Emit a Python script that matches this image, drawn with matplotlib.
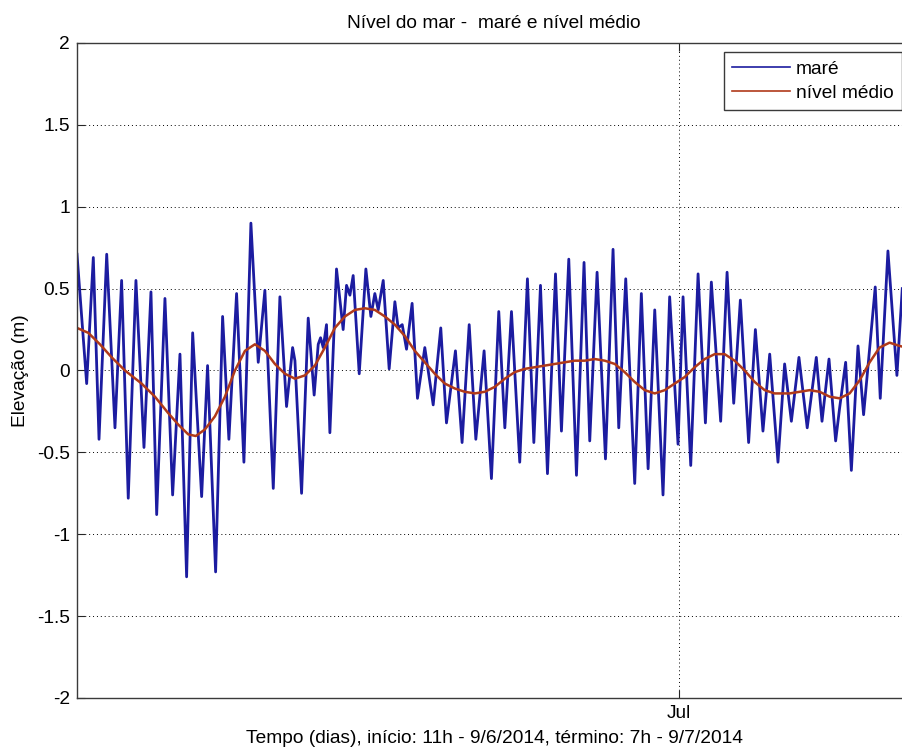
from datetime import datetime

import matplotlib
matplotlib.use('Agg')
import matplotlib.pyplot as plt
import pandas as pd

START = datetime(2014, 6, 9, 11)
END = datetime(2014, 7, 9, 7)

# tide extrema: hours since START and elevation (m)
tide_hours = [
    0.0, 8.3, 14.0, 18.9, 25.5, 32.6, 38.3, 44.0, 50.6, 57.5, 63.5, 68.4,
    75.5, 82.1, 88.4, 94.1, 99.3, 107.0, 112.1, 119.0, 125.0, 130.4, 137.0,
    143.3, 149.3, 155.6, 161.3, 168.5, 174.2, 179.9, 185.1, 187.1, 192.8,
    198.5, 203.6, 207.1, 209.1, 211.4, 214.2, 217.1, 222.8, 228.5, 231.4,
    234.3, 237.1, 242.3, 248.0, 252.3, 255.7, 258.6, 262.9, 268.0, 272.9,
    275.7, 279.2, 282.9, 287.7, 292.3, 298.6, 305.8, 312.3, 317.2, 324.9,
    330.6, 336.7, 342.4, 349.5, 355.8, 362.1, 367.3, 373.0, 380.1, 386.7,
    392.2, 397.9, 403.9, 410.8, 415.9, 422.2, 428.8, 435.3, 440.2, 446.5,
    453.7, 460.2, 465.1, 471.1, 478.8, 484.5, 490.3, 496.0, 503.1, 508.8,
    516.0, 520.3, 526.9, 533.2, 539.5, 544.6, 552.6, 558.1, 563.8, 569.5,
    576.6, 582.4, 588.9, 594.7, 601.8, 607.5, 613.3, 619.8, 626.9, 634.7,
    639.6, 645.6, 651.3, 654.7, 659.9, 664.8, 670.5, 675.3, 685.3, 689.6,
    696.2, 703.9, 708.5,
]
tide_level = [
    0.71, -0.08, 0.69, -0.42, 0.71, -0.35, 0.55, -0.78, 0.55, -0.47, 0.48, -0.88,
    0.44, -0.76, 0.10, -1.26, 0.23, -0.77, 0.03, -1.23, 0.33, -0.42, 0.47,
    -0.56, 0.90, 0.05, 0.49, -0.72, 0.45, -0.22, 0.14, 0.06, -0.75,
    0.32, -0.15, 0.16, 0.20, 0.14, 0.28, -0.38, 0.62, 0.25, 0.52,
    0.46, 0.58, -0.02, 0.62, 0.33, 0.47, 0.37, 0.55, 0.01, 0.42,
    0.26, 0.28, 0.13, 0.41, -0.17, 0.14, -0.21, 0.26, -0.32, 0.12,
    -0.44, 0.28, -0.42, 0.12, -0.66, 0.36, -0.35, 0.36, -0.56, 0.56,
    -0.44, 0.52, -0.63, 0.59, -0.37, 0.68, -0.64, 0.66, -0.43, 0.60,
    -0.54, 0.74, -0.35, 0.56, -0.69, 0.47, -0.60, 0.37, -0.76, 0.45,
    -0.45, 0.45, -0.58, 0.59, -0.32, 0.54, -0.31, 0.60, -0.20, 0.43,
    -0.44, 0.25, -0.37, 0.10, -0.56, 0.04, -0.31, 0.08, -0.35, 0.08,
    -0.31, 0.07, -0.43, -0.23, 0.05, -0.61, 0.15, -0.27, 0.51, -0.17,
    0.73, -0.03, 0.50,
]

# filtered mean sea level
mean_hours = [
    0.0, 9.7, 19.7, 29.8, 41.2, 55.5, 66.9, 78.3, 86.9, 95.5, 102.0, 109.8,
    118.4, 127.0, 135.6, 144.2, 152.7, 161.3, 169.9, 178.5, 187.1, 195.6,
    204.2, 212.8, 221.4, 230.0, 238.6, 247.1, 255.7, 264.3, 272.9, 281.5,
    290.0, 298.6, 307.2, 315.8, 324.4, 332.9, 341.5, 350.1, 358.7, 367.3,
    375.8, 384.4, 393.0, 401.6, 410.2, 418.7, 427.3, 435.9, 444.5, 453.1,
    461.7, 470.2, 478.8, 487.4, 496.0, 504.6, 513.1, 521.7, 530.3, 538.9,
    547.5, 556.0, 564.6, 573.2, 581.8, 590.4, 598.9, 607.5, 611.8, 620.4,
    629.0, 637.6, 646.2, 654.7, 663.3, 671.9, 680.5, 689.0, 697.6, 706.2,
    712.0,
]
mean_level = [
    0.26, 0.23, 0.16, 0.08, 0.00, -0.08, -0.16, -0.26, -0.33, -0.39, -0.40, -0.36,
    -0.28, -0.16, 0.00, 0.12, 0.16, 0.12, 0.04, -0.02, -0.05, -0.03,
    0.03, 0.14, 0.26, 0.33, 0.37, 0.38, 0.37, 0.33, 0.28, 0.21,
    0.12, 0.05, -0.02, -0.08, -0.11, -0.13, -0.14, -0.13, -0.10, -0.05,
    -0.01, 0.01, 0.02, 0.03, 0.04, 0.05, 0.06, 0.06, 0.07, 0.06,
    0.04, -0.01, -0.07, -0.12, -0.14, -0.12, -0.08, -0.04, 0.02, 0.07,
    0.10, 0.10, 0.06, 0.00, -0.07, -0.12, -0.14, -0.14, -0.14, -0.13,
    -0.12, -0.13, -0.16, -0.17, -0.14, -0.06, 0.05, 0.14, 0.17, 0.15,
    0.14,
]

yticks = [-2, -1.5, -1, -0.5, 0, 0.5, 1, 1.5, 2]
ytick_labels = ['-2', '-1.5', '-1', '-0.5', '0', '0.5', '1', '1.5', '2']


def main():
    plt.rcParams['font.family'] = ['Liberation Sans', 'DejaVu Sans']
    fs = 13.8

    tide_time = pd.Timestamp(START) + pd.to_timedelta(tide_hours, unit='h')
    mean_time = pd.Timestamp(START) + pd.to_timedelta(mean_hours, unit='h')

    fig = plt.figure(figsize=(9.03, 7.49), dpi=100)
    # right edge of the box falls just outside the saved image
    ax = fig.add_axes([77 / 903, 51 / 749, 834 / 903, 655 / 749])

    ax.plot(tide_time, tide_level, color='#1c1ca0', lw=2.0, label='maré')
    ax.plot(mean_time, mean_level, color='#b03a1a', lw=1.8, label='nível médio')

    ax.set_xlim(START, END)
    ax.set_ylim(-2, 2)
    ax.set_yticks(yticks)
    ax.set_yticklabels(ytick_labels)
    ax.set_xticks([datetime(2014, 7, 1)])
    ax.set_xticklabels(['Jul'])
    ax.tick_params(direction='in', top=True, right=True, length=6, width=0.8,
                   labelsize=fs, pad=5, colors='#262626', labelcolor='black')
    for spine in ax.spines.values():
        spine.set_color('#3a3a3a')
        spine.set_linewidth(1.0)
    ax.grid(True, color='black', linestyle=(0, (1, 3)), linewidth=0.7)

    ax.set_title('Nível do mar -  maré e nível médio', fontsize=fs, pad=11)
    ax.set_xlabel('Tempo (dias), início: 11h - 9/6/2014, término: 7h - 9/7/2014',
                  fontsize=fs, labelpad=6)
    ax.set_ylabel('Elevação (m)', fontsize=fs, labelpad=6)

    leg = ax.legend(loc='upper right', bbox_to_anchor=(902 / 903, 1 - 52 / 749),
                    bbox_transform=fig.transFigure, borderaxespad=0,
                    fancybox=False, framealpha=1, edgecolor='#3a3a3a',
                    fontsize=fs, handlelength=3.0, handletextpad=0.3,
                    borderpad=0.45, labelspacing=0.32)
    leg.get_frame().set_linewidth(1.0)
    for line in leg.get_lines():
        line.set_linewidth(1.2)

    fig.savefig('out.png', dpi=100)


if __name__ == '__main__':
    main()
